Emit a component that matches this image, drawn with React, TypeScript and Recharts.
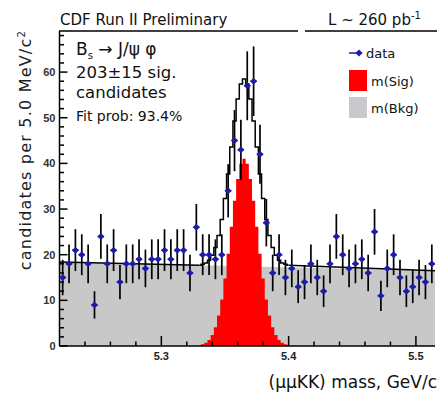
import React from 'react';
import { ComposedChart, Area, Line, Scatter, ErrorBar, XAxis, YAxis } from 'recharts';

// mass histogram: 5 MeV bins starting at 5.22 GeV
const massLow = 5.22;
const binWidth = 0.005;
const counts = [
    15, 18, 21, 20, 18, 9, 24, 18, 21, 14,
    18, 18, 19, 17, 19, 19, 21, 19, 21, 21,
    16, 26, 20, 20, 19, 20, 34, 45, 43, 57,
    58, 42, 27, 16, 20, 15, 17, 13, 14, 18,
    15, 12, 18, 24, 20, 17, 18, 19, 16, 25,
    11, 17, 20, 15, 12, 13, 15, 14, 18,
];

// signal shape, sampled every 2.5 MeV from 5.330 to 5.400
const sigStart = 5.33;
const sigStep = 0.0025;
const sigValues = [
    0.2, 0.4, 0.7, 1.3, 2.4, 4.1, 6.7, 10.2, 14.8, 20.2,
    26.1, 31.8, 36.6, 39.9, 41, 39.9, 36.6, 31.8, 26.1, 20.2,
    14.8, 10.2, 6.7, 4.1, 2.4, 1.3, 0.7, 0.4, 0.2,
];

// background line end points and its level under the peak
const bkgMass = [5.22, 5.515];
const bkgLevel = [18.4, 16.5];
const bkgUnderPeak = 17.5;

const xTicks = [5.24, 5.26, 5.28, 5.3, 5.32, 5.34, 5.36, 5.38, 5.4, 5.42, 5.44, 5.46, 5.48, 5.5];
const xLabels = [5.3, 5.4, 5.5];
const yTicks = [0, 2, 4, 6, 8, 10, 12, 14, 16, 18, 20, 22, 24, 26, 28, 30, 32, 34, 36, 38, 40, 42, 44, 46, 48, 50, 52, 54, 56, 58, 60, 62, 64, 66, 68];
const yLabels = [0, 10, 20, 30, 40, 50, 60];

const points = counts.map((n, i) => ({
    x: massLow + binWidth * (i + 0.5),
    n,
    err: Math.sqrt(n),
}));

const sigRows = sigValues.map((s, i) => {
    const row: any = { x: sigStart + sigStep * i, sig: s, peak: s + bkgUnderPeak };
    if (i === 0 || i === sigValues.length - 1) row.side = s + bkgUnderPeak;
    return row;
});

const curves = [
    { x: bkgMass[0], bkg: bkgLevel[0], side: bkgLevel[0] },
    ...sigRows,
    { x: bkgMass[1], bkg: bkgLevel[1], side: bkgLevel[1] },
];

const BLUE = '#1c1ca8';
const FONT = '"DejaVu Sans", sans-serif';
const TICK_FONT = '"Liberation Sans", Arial, sans-serif';

const near = (list: number[], v: number) => list.some(l => Math.abs(l - v) < 1e-6);

const XTick = (props: any) => {
    const { x, y, payload } = props;
    const major = near(xLabels, payload.value);
    return (
        <g>
            <line x1={x} x2={x} y1={y} y2={y - (major ? 10 : 4.5)} stroke="#000" strokeWidth={1.5} />
            {major && (
                <text x={x} y={y + 14} textAnchor="middle" fontSize={11} fontWeight="bold" fontFamily={TICK_FONT} fill="#222">
                    {payload.value.toFixed(1)}
                </text>
            )}
        </g>
    );
};

const YTick = (props: any) => {
    const { x, y, payload } = props;
    const major = near(yLabels, payload.value);
    return (
        <g>
            <line x1={x} x2={x + (major ? 8 : 4.5)} y1={y} y2={y} stroke="#000" strokeWidth={1.5} />
            {major && (
                <text x={x - 4} y={y + 4} textAnchor="end" fontSize={11} fontWeight="bold" fontFamily={TICK_FONT} fill="#333">
                    {payload.value}
                </text>
            )}
        </g>
    );
};

const DataMarker = (props: any) => {
    const { cx, cy } = props;
    if (cx == null || cy == null) return null;
    const r = 3.5;
    return (
        <g>
            <line x1={cx - 3.2} x2={cx + 3.2} y1={cy} y2={cy} stroke={BLUE} strokeWidth={1.5} />
            <path d={`M${cx},${cy - r}L${cx + r},${cy}L${cx},${cy + r}L${cx - r},${cy}Z`} fill={BLUE} />
        </g>
    );
};

export default function App() {
    return (
        <div style={{ position: 'fixed', left: 0, top: 0, width: 438, height: 393, background: '#fff' }}>
            <ComposedChart
                width={438}
                height={393}
                data={curves}
                margin={{ top: 31, right: 3, bottom: 17, left: 19.5 }}
            >
                <XAxis
                    dataKey="x"
                    type="number"
                    domain={[5.22, 5.515]}
                    ticks={xTicks}
                    interval={0}
                    allowDataOverflow
                    height={30}
                    tickSize={0}
                    tickMargin={0}
                    tickLine={false}
                    axisLine={{ stroke: '#000', strokeWidth: 1.5 }}
                    tick={<XTick />}
                />
                <YAxis
                    type="number"
                    domain={[0, 69]}
                    ticks={yTicks}
                    interval={0}
                    allowDataOverflow
                    width={40}
                    tickSize={0}
                    tickMargin={0}
                    tickLine={false}
                    axisLine={{ stroke: '#000', strokeWidth: 1.5 }}
                    tick={<YTick />}
                />
                <Area
                    dataKey="bkg"
                    type="linear"
                    connectNulls
                    stroke="none"
                    fill="#c8c8c8"
                    fillOpacity={1}
                    isAnimationActive={false}
                />
                <Area
                    dataKey="sig"
                    type="step"
                    stroke="none"
                    fill="#ff0000"
                    fillOpacity={1}
                    isAnimationActive={false}
                />
                <Line
                    dataKey="side"
                    type="linear"
                    stroke="#000"
                    strokeWidth={1.5}
                    dot={false}
                    isAnimationActive={false}
                />
                <Line
                    dataKey="peak"
                    type="step"
                    stroke="#000"
                    strokeWidth={1.5}
                    dot={false}
                    isAnimationActive={false}
                />
                <Scatter
                    data={points}
                    dataKey="n"
                    shape={<DataMarker />}
                    isAnimationActive={false}
                >
                    <ErrorBar dataKey="err" direction="y" width={0} stroke="#000" strokeWidth={1.7} />
                </Scatter>
            </ComposedChart>

            <svg width={438} height={393} style={{ position: 'absolute', left: 0, top: 0, pointerEvents: 'none' }}>
                <text x={60} y={25} fontSize={15} fontFamily={FONT} fill="#111">CDF Run II Preliminary</text>
                <text x={328} y={25} fontSize={15} fontFamily={FONT} fill="#111">
                    L ~ 260 pb<tspan dy={-6} fontSize={10}>-1</tspan>
                </text>
                <line x1={59} x2={298} y1={31} y2={31} stroke="#000" strokeWidth={1.5} />
                <line x1={305} x2={437} y1={31} y2={31} stroke="#000" strokeWidth={1.5} />

                <text x={76} y={55} fontSize={17} fontFamily={FONT} fill="#111">
                    B<tspan dy={4} fontSize={10}>s</tspan><tspan dy={-4}> → J/ψ φ</tspan>
                </text>
                <text x={76} y={78} fontSize={16.5} fontFamily={FONT} fill="#111">203±15 sig.</text>
                <text x={76} y={98} fontSize={16.5} fontFamily={FONT} fill="#111">candidates</text>
                <text x={76} y={121} fontSize={14} fontFamily={FONT} fill="#111">Fit prob: 93.4%</text>

                <line x1={349} x2={362} y1={53} y2={53} stroke={BLUE} strokeWidth={1.5} />
                <path d="M359,49.5L362.5,53L359,56.5L355.5,53Z" fill={BLUE} />
                <text x={366} y={58} fontSize={13} fontFamily={FONT} fill="#111">data</text>
                <rect x={349} y={70} width={18} height={21} fill="#ff0000" />
                <text x={371} y={86} fontSize={13} fontFamily={FONT} fill="#111">m(Sig)</text>
                <rect x={349} y={97} width={18} height={21} fill="#c8c9cc" />
                <text x={371} y={113} fontSize={13} fontFamily={FONT} fill="#111">m(Bkg)</text>

                <text x={437} y={388} textAnchor="end" fontSize={17} fontFamily={FONT} fill="#111">(μμKK) mass, GeV/c</text>
                <text
                    x={31}
                    y={30}
                    textAnchor="end"
                    transform="rotate(-90, 31, 30)"
                    fontSize={16}
                    letterSpacing={1.2}
                    fontFamily={FONT}
                    fill="#222"
                >
                    candidates per 5.0 MeV/c<tspan dy={-6} fontSize={10}>2</tspan>
                </text>
            </svg>
        </div>
    );
}
